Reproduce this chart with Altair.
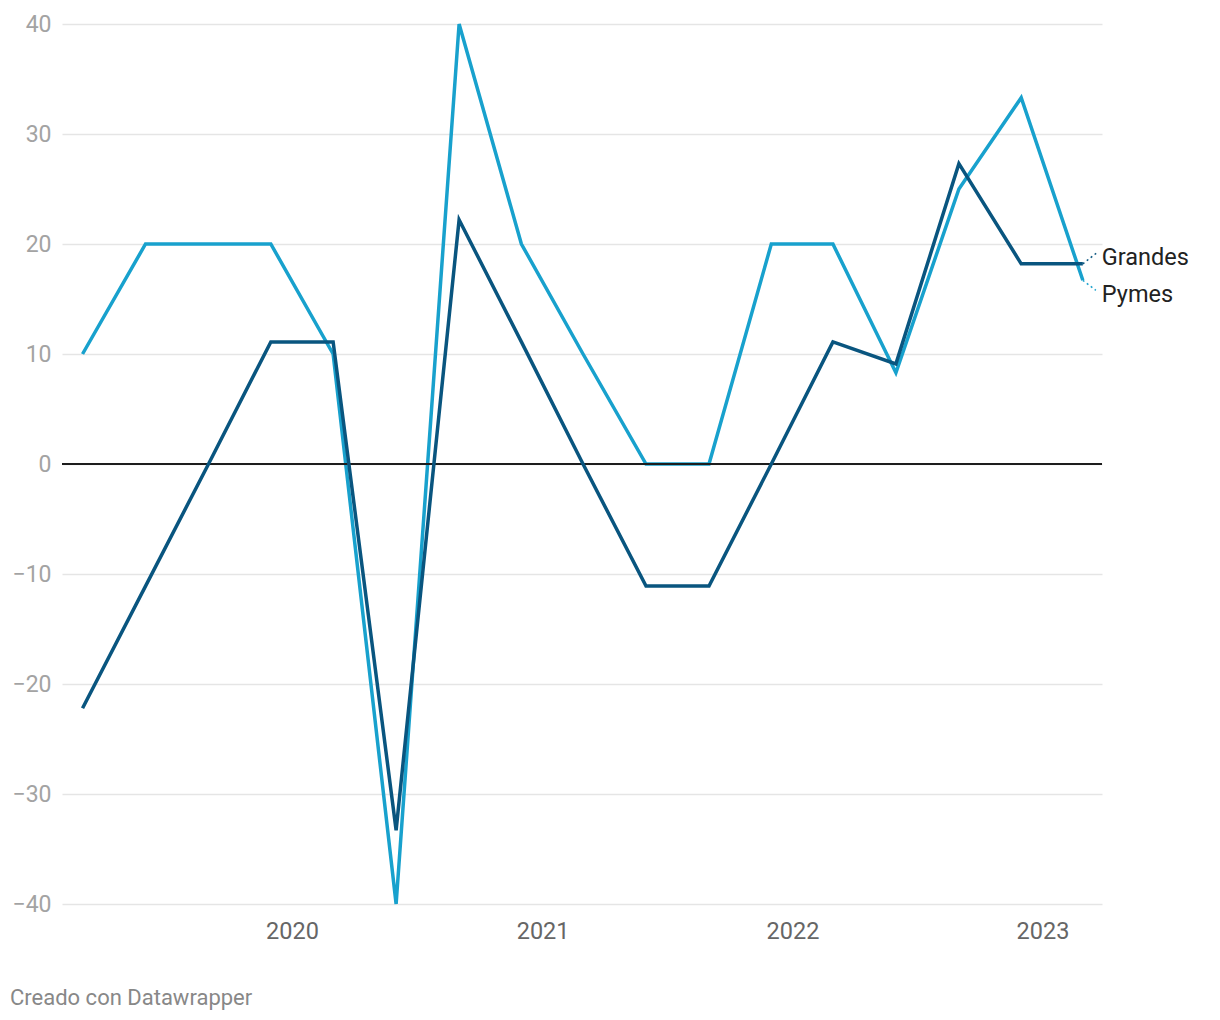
import altair as alt
import pandas as pd

dates = ["2019-03-01", "2019-06-01", "2019-09-01", "2019-12-01",
         "2020-03-01", "2020-06-01", "2020-09-01", "2020-12-01",
         "2021-03-01", "2021-06-01", "2021-09-01", "2021-12-01",
         "2022-03-01", "2022-06-01", "2022-09-01", "2022-12-01",
         "2023-03-01"]
pymes = [10, 20, 20, 20, 10, -40, 40, 20, 10, 0, 0, 20, 20, 8.3, 25, 33.3, 16.7]
grandes = [-22.2, -11.1, 0, 11.1, 11.1, -33.3, 22.2, 11.1, 0, -11.1, -11.1,
           0, 11.1, 9.1, 27.3, 18.2, 18.2]
year_ticks = [2020, 2021, 2022, 2023]
y_ticks = [-40, -30, -20, -10, 0, 10, 20, 30, 40]

C_PYMES = "#18a1cd"
C_GRANDES = "#09557f"

df_p = pd.DataFrame({"date": dates, "value": pymes, "serie": "Pymes"})
df_g = pd.DataFrame({"date": dates, "value": grandes, "serie": "Grandes"})
last_g = df_g.tail(1)
last_p = df_p.tail(1)

x_scale = alt.Scale(type="utc",
                    domain=[alt.DateTime(year=2019, month=1, date=30, utc=True),
                            alt.DateTime(year=2023, month=3, date=29, utc=True)])
y_scale = alt.Scale(domain=[-40, 40], nice=False, zero=False)

x_axis = alt.Axis(values=[alt.DateTime(year=y, month=1, date=1, utc=True) for y in year_ticks],
                  format="%Y", formatType="utc", title=None, grid=False, domain=False,
                  ticks=False, labelPadding=15, labelFontSize=23.5, labelColor="#666666",
                  labelFont="Roboto")
y_axis = alt.Axis(values=y_ticks, title=None, domain=False, ticks=False,
                  labelPadding=11, labelFontSize=23, labelColor="#a3a3a3",
                  labelFont="Roboto", grid=True, gridColor="#e5e5e5", gridWidth=1.5)

X = alt.X("date:T", scale=x_scale, axis=x_axis)
Y = alt.Y("value:Q", scale=y_scale, axis=y_axis)

line_p = alt.Chart(df_p).mark_line(color=C_PYMES, strokeWidth=3.5, strokeJoin="miter").encode(x=X, y=Y)

zero = alt.Chart(pd.DataFrame({"value": [0]})).mark_rule(
    color="#1d1d1d", strokeWidth=2).encode(y=Y)

line_g = alt.Chart(df_g).mark_line(color=C_GRANDES, strokeWidth=3.5, strokeJoin="miter").encode(x=X, y=Y)

conn_g = alt.Chart(last_g).mark_rule(
    color=C_GRANDES, strokeWidth=1.5, strokeDash=[2, 3], x2Offset=14, y2Offset=-11
).encode(x=X, y=Y, x2="date:T", y2="value:Q")
conn_p = alt.Chart(last_p).mark_rule(
    color=C_PYMES, strokeWidth=1.5, strokeDash=[2, 3], x2Offset=13, y2Offset=10
).encode(x=X, y=Y, x2="date:T", y2="value:Q")

lab_g = alt.Chart(last_g).mark_text(
    align="left", baseline="middle", dx=19, dy=-6, fontSize=23.5, font="Roboto", color="#222222"
).encode(x=X, y=Y, text="serie:N")
lab_p = alt.Chart(last_p).mark_text(
    align="left", baseline="middle", dx=19, dy=15, fontSize=23.5, font="Roboto", color="#222222"
).encode(x=X, y=Y, text="serie:N")

chart = alt.layer(line_p, zero, line_g, conn_g, conn_p, lab_g, lab_p).properties(
    width=1040, height=880,
    autosize=alt.AutoSizeParams(type="none"),
    padding={"left": 54, "top": 16, "right": 110, "bottom": 112},
    background="white",
    title=alt.TitleParams("Creado con Datawrapper", orient="bottom", anchor="start",
                          frame="group", dx=-52, offset=45, fontSize=22,
                          fontWeight="normal", color="#888888", font="Roboto"),
).configure_view(stroke=None)

chart.save("out.html", embed_options={"renderer": "svg", "actions": False})
